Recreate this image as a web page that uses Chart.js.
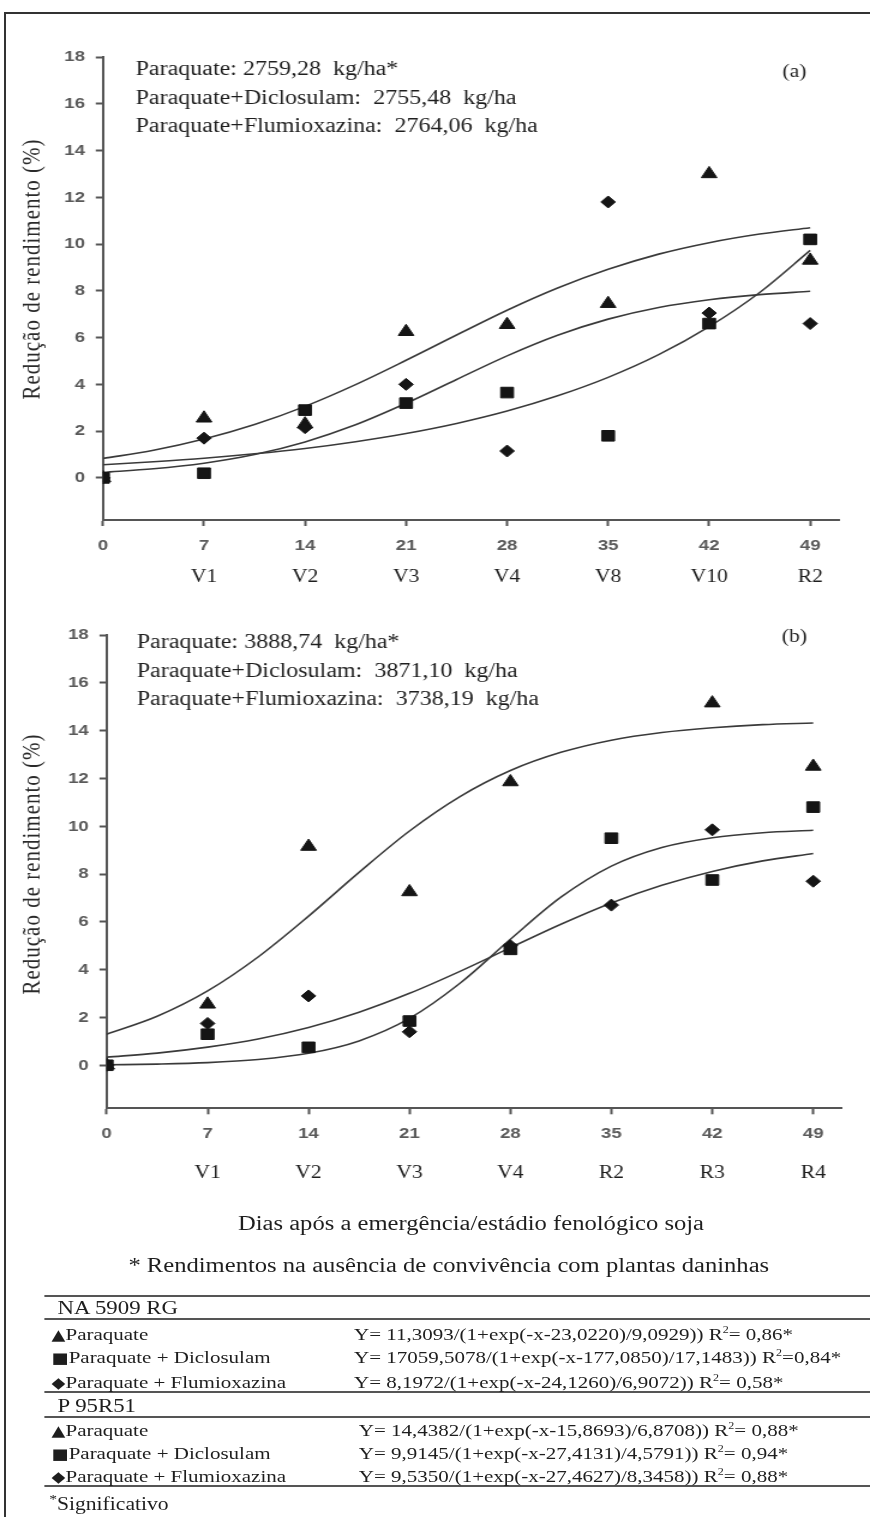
<!DOCTYPE html>
<html lang="pt">
<head>
<meta charset="utf-8">
<title>Redução de rendimento</title>
<script src="https://cdn.jsdelivr.net/npm/chart.js@4"></script>
<style>
  html, body { margin: 0; padding: 0; background: #fff; }
  body { width: 870px; height: 1517px; overflow: hidden; position: relative; }
  #moldura { position: absolute; left: 4px; top: 12px; width: 900px; height: 1600px;
             border-left: 2px solid #333; border-top: 2px solid #333; }
  /* a figura original esta esticada na horizontal, por isso o conjunto usa scaleX */
  #conteudo { position: absolute; left: 0; top: 0; width: 725px; height: 1517px;
              transform: scaleX(1.2); transform-origin: 0 0;
              font-family: "Liberation Serif", "Times New Roman", serif; color: #1e1e1e; }
  .caixa { position: absolute; left: 0; width: 725px; height: 600px; }
  .legenda { position: absolute; left: 0; line-height: 24px; font-size: 20.5px; text-align: center; }
  .linha { position: absolute; left: 37px; width: 700px; height: 0; border-top: 2px solid #555; }
  .txt { position: absolute; line-height: 22px; font-size: 17.5px; white-space: pre; }
  .marca { font-family: "DejaVu Sans", sans-serif; font-size: 15px; }
</style>
</head>
<body>
<div id="moldura"></div>
<div id="conteudo">
  <div class="caixa" style="top:0"><canvas id="grafico-a"></canvas></div>
  <div class="caixa" style="top:600px"><canvas id="grafico-b"></canvas></div>
  <div class="legenda" style="top:1211px; width:785px">Dias após a emergência/estádio fenológico soja</div>
  <div class="legenda" style="top:1253px; width:748px">* Rendimentos na ausência de convivência com plantas daninhas</div>
  <div id="tabela"></div>
</div>
<script>
// Eixos
const dias = [0, 7, 14, 21, 28, 35, 42, 49];
const diasCurva = [0, 3.5, 7, 10.5, 14, 17.5, 21, 24.5, 28, 31.5, 35, 38.5, 42, 45.5, 49];
const ticksY = [0, 2, 4, 6, 8, 10, 12, 14, 16, 18];
const tituloY = 'Redução de rendimento (%)';

// (a) NA 5909 RG
const estadiosA = ['V1', 'V2', 'V3', 'V4', 'V8', 'V10', 'R2'];
const paraquateA = [0, 2.55, 2.3, 6.25, 6.55, 7.45, 13.0, 9.3];
const diclosulamA = [0, 0.2, 2.9, 3.2, 3.65, 1.8, 6.6, 10.2];
const flumioxazinaA = [0, 1.7, 2.15, 4.0, 1.15, 11.8, 7.05, 6.6];
const curvaParaquateA = [0.83, 1.18, 1.66, 2.28, 3.06, 3.99, 5.03, 6.11, 7.17, 8.12, 8.92, 9.57, 10.06, 10.43, 10.70];
const curvaDiclosulamA = [0.56, 0.69, 0.84, 1.03, 1.26, 1.55, 1.90, 2.33, 2.86, 3.51, 4.30, 5.27, 6.47, 7.93, 9.73];
const curvaFlumioxazinaA = [0.24, 0.39, 0.63, 1.00, 1.54, 2.27, 3.19, 4.21, 5.22, 6.10, 6.79, 7.29, 7.62, 7.84, 7.98];
const cabecalhoA = ['Paraquate: 2759,28  kg/ha*', 'Paraquate+Diclosulam:  2755,48  kg/ha', 'Paraquate+Flumioxazina:  2764,06  kg/ha'];

// (b) P 95R51
const estadiosB = ['V1', 'V2', 'V3', 'V4', 'R2', 'R3', 'R4'];
const paraquateB = [0, 2.55, 9.15, 7.25, 11.85, null, 15.15, 12.5];
const diclosulamB = [0, 1.3, 0.75, 1.85, 4.85, 9.5, 7.75, 10.8];
const flumioxazinaB = [0, 1.75, 2.9, 1.4, 5.0, 6.7, 9.85, 7.7];
const curvaParaquateB = [1.30, 2.05, 3.11, 4.53, 6.24, 8.07, 9.80, 11.24, 12.33, 13.09, 13.60, 13.92, 14.12, 14.25, 14.32];
const curvaDiclosulamB = [0.02, 0.05, 0.11, 0.24, 0.50, 1.02, 1.96, 3.43, 5.27, 7.03, 8.33, 9.11, 9.52, 9.73, 9.83];
const curvaFlumioxazinaB = [0.34, 0.51, 0.76, 1.10, 1.58, 2.22, 3.01, 3.93, 4.92, 5.90, 6.79, 7.53, 8.11, 8.55, 8.86];
const cabecalhoB = ['Paraquate: 3888,74  kg/ha*', 'Paraquate+Diclosulam:  3871,10  kg/ha', 'Paraquate+Flumioxazina:  3738,19  kg/ha'];

// Tabela de equações
const grupos = ['NA 5909 RG', 'P 95R51'];
const marcas = ['▲', '■', '◆'];
const tratamentos = ['Paraquate', 'Paraquate + Diclosulam', 'Paraquate + Flumioxazina'];
const equacoesA = [
  'Y= 11,3093/(1+exp(-x-23,0220)/9,0929)) R²= 0,86*',
  'Y= 17059,5078/(1+exp(-x-177,0850)/17,1483)) R²=0,84*',
  'Y= 8,1972/(1+exp(-x-24,1260)/6,9072)) R²= 0,58*'
];
const equacoesB = [
  'Y= 14,4382/(1+exp(-x-15,8693)/6,8708)) R²= 0,88*',
  'Y= 9,9145/(1+exp(-x-27,4131)/4,5791)) R²= 0,94*',
  'Y= 9,5350/(1+exp(-x-27,4627)/8,3458)) R²= 0,88*'
];

const corPreta = '#151515';
const corEixo = '#555';

function pontos(xs, ys) {
    return xs.map((x, i) => ({ x: x, y: ys[i] }));
}

// Textos desenhados dentro do canvas (cabeçalho, painel, estádios, título do eixo y)
const textosPlugin = {
    id: 'textos',
    afterDraw(chart, args, o) {
        const ctx = chart.ctx;
        const escalaX = chart.scales.x;
        ctx.save();
        ctx.fillStyle = '#1e1e1e';
        ctx.font = '20px "Liberation Serif"';
        ctx.textBaseline = 'middle';
        ctx.textAlign = 'left';
        o.cabecalho.forEach((t, i) => ctx.fillText(t, o.cabX, o.cabY[i]));
        ctx.textAlign = 'center';
        ctx.font = '18px "Liberation Serif"';
        ctx.fillText(o.painel, o.painelX, o.painelY);
        o.estadios.forEach((t, i) => ctx.fillText(t, escalaX.getPixelForValue(dias[i + 1]), o.estadioY));
        ctx.translate(o.tituloX, o.tituloY);
        ctx.rotate(-Math.PI / 2);
        ctx.font = '21px "Liberation Serif"';
        ctx.fillStyle = '#2a2a2a';
        ctx.letterSpacing = '1px';
        ctx.fillText(tituloY, 0, 0);
        ctx.restore();
    }
};

function crearGrafico(id, p) {
    const serie = (dados, estilo, raio, ordem) => ({
        data: pontos(dias, dados),
        showLine: false,
        pointStyle: estilo,
        pointRadius: raio,
        backgroundColor: corPreta,
        borderColor: corPreta,
        borderWidth: 1,
        order: ordem
    });
    const curva = (dados) => ({
        data: pontos(diasCurva, dados),
        showLine: true,
        pointRadius: 0,
        borderColor: '#3a3a3a',
        borderWidth: 1.6,
        cubicInterpolationMode: 'monotone',
        order: 5
    });
    const fonteTick = { family: 'Liberation Sans', size: 15.5, weight: 'bold' };

    new Chart(document.getElementById(id), {
        type: 'scatter',
        data: {
            datasets: [
                serie(p.paraquate, 'triangle', 7.5, 2),
                serie(p.diclosulam, 'rect', 7.5, 1),
                serie(p.flumioxazina, 'rectRot', 6, 0),
                curva(p.curvaParaquate),
                curva(p.curvaDiclosulam),
                curva(p.curvaFlumioxazina)
            ]
        },
        options: {
            responsive: true,
            maintainAspectRatio: false,
            animation: false,
            layout: { padding: { top: p.topo, right: p.direita, left: 0, bottom: 0 } },
            plugins: {
                legend: { display: false },
                tooltip: { enabled: false },
                textos: {
                    cabecalho: p.cabecalho, cabX: p.cabX, cabY: p.cabY,
                    painel: p.painel, painelX: 662, painelY: p.painelY,
                    estadios: p.estadios, estadioY: p.estadioY,
                    tituloX: 27, tituloY: p.tituloY
                }
            },
            scales: {
                x: {
                    type: 'linear', min: 0, max: 51,
                    border: { color: corEixo, width: 2 },
                    grid: { drawOnChartArea: false, tickLength: 6, tickColor: corEixo, tickWidth: 2 },
                    ticks: { font: fonteTick, color: '#5a5a5a', padding: 10 },
                    afterBuildTicks: eixo => { eixo.ticks = dias.map(v => ({ value: v })); },
                    afterFit: eixo => { eixo.height = p.alturaX; }
                },
                y: {
                    type: 'linear', min: -1.8, max: 18,
                    border: { color: corEixo, width: 2 },
                    grid: { drawOnChartArea: false, tickLength: 6, tickColor: corEixo, tickWidth: 2 },
                    ticks: { font: fonteTick, color: '#5a5a5a', padding: 9 },
                    afterBuildTicks: eixo => { eixo.ticks = ticksY.map(v => ({ value: v })); },
                    afterFit: eixo => { eixo.width = p.larguraY; }
                }
            }
        },
        plugins: [textosPlugin]
    });
}

function montarTabela() {
    const tabela = document.getElementById('tabela');
    const linhasY = [1296, 1319, 1392, 1417, 1486];
    let html = linhasY.map(y => `<div class="linha" style="top:${y - 1}px"></div>`).join('');
    const blocos = [
        { titulo: grupos[0], yTitulo: 1308, ys: [1334, 1357, 1382], eqs: equacoesA, eqX: 295 },
        { titulo: grupos[1], yTitulo: 1406, ys: [1430, 1453, 1476], eqs: equacoesB, eqX: 299 }
    ];
    blocos.forEach(b => {
        html += `<div class="txt" style="left:48px; top:${b.yTitulo - 11}px; font-size:19px">${b.titulo}</div>`;
        b.ys.forEach((y, i) => {
            html += `<div class="txt" style="left:43px; top:${y - 11}px"><span class="marca">${marcas[i]}</span>${tratamentos[i]}</div>`;
            html += `<div class="txt" style="left:${b.eqX}px; top:${y - 11}px">${b.eqs[i].replace('R²', 'R<sup style="font-size:10px;line-height:0">2</sup>')}</div>`;
        });
    });
    html += `<div class="txt" style="left:41px; top:1493px; font-size:18px"><sup style="font-size:13px;line-height:0">*</sup>Significativo</div>`;
    tabela.innerHTML = html;
}

document.addEventListener('DOMContentLoaded', () => {
    crearGrafico('grafico-a', {
        paraquate: paraquateA, diclosulam: diclosulamA, flumioxazina: flumioxazinaA,
        curvaParaquate: curvaParaquateA, curvaDiclosulam: curvaDiclosulamA, curvaFlumioxazina: curvaFlumioxazinaA,
        cabecalho: cabecalhoA, cabX: 113, cabY: [70, 99, 127],
        painel: '(a)', painelY: 72, estadios: estadiosA, estadioY: 577, tituloY: 269,
        topo: 57, direita: 25.8, larguraY: 85.8, alturaX: 80
    });
    crearGrafico('grafico-b', {
        paraquate: paraquateB, diclosulam: diclosulamB, flumioxazina: flumioxazinaB,
        curvaParaquate: curvaParaquateB, curvaDiclosulam: curvaDiclosulamB, curvaFlumioxazina: curvaFlumioxazinaB,
        cabecalho: cabecalhoB, cabX: 114, cabY: [43, 72, 100],
        painel: '(b)', painelY: 37, estadios: estadiosB, estadioY: 573, tituloY: 264,
        topo: 35, direita: 23.3, larguraY: 88.9, alturaX: 91.7
    });
    montarTabela();
});
</script>
</body>
</html>
